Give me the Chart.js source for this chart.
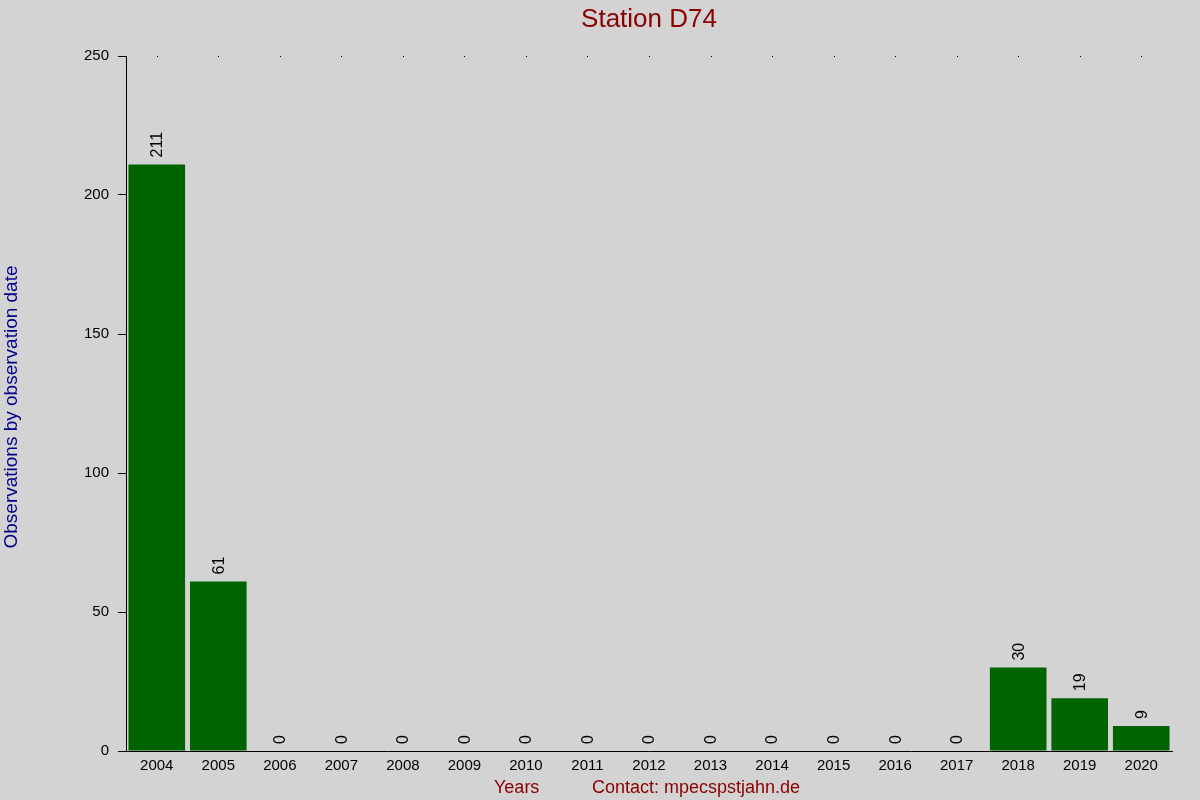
<!DOCTYPE html>
<html>
<head>
<meta charset="utf-8">
<title>Station D74</title>
<script src="https://cdn.jsdelivr.net/npm/chart.js@4/dist/chart.umd.min.js"></script>
<style>
  html, body { margin: 0; padding: 0; background: #d3d3d3; }
  canvas { display: block; }
</style>
</head>
<body>
<canvas id="stationChart" width="1200" height="800"></canvas>
<script>
const years = ['2004', '2005', '2006', '2007', '2008', '2009', '2010', '2011', '2012',
               '2013', '2014', '2015', '2016', '2017', '2018', '2019', '2020'];
const counts = [211, 61, 0, 0, 0, 0, 0, 0, 0, 0, 0, 0, 0, 0, 30, 19, 9];
const yTicks = [0, 50, 100, 150, 200, 250];

const FONT = "'Liberation Sans', Arial, sans-serif";

// fondo gris, textos de titulo y pie, puntos arriba y etiquetas de barras
const decorations = {
    id: 'decorations',
    beforeDraw(chart) {
        const ctx = chart.ctx;
        ctx.save();
        ctx.fillStyle = '#d3d3d3';
        ctx.fillRect(0, 0, chart.width, chart.height);
        ctx.restore();
    },
    afterDatasetsDraw(chart) {
        const ctx = chart.ctx;
        const area = chart.chartArea;
        const xScale = chart.scales.x;
        ctx.save();

        // small dots along the top of the plot
        ctx.fillStyle = '#000';
        years.forEach((y, i) => {
            const px = Math.round(xScale.getPixelForValue(i));
            ctx.fillRect(px, area.top, 1, 1);
        });

        // value labels, rotated
        ctx.font = '16px ' + FONT;
        ctx.fillStyle = '#000';
        ctx.textAlign = 'left';
        ctx.textBaseline = 'middle';
        chart.getDatasetMeta(0).data.forEach((bar, i) => {
            ctx.save();
            ctx.translate(bar.x + 1, bar.y - 7);
            ctx.rotate(-Math.PI / 2);
            ctx.fillText(String(counts[i]), 0, 0);
            ctx.restore();
        });

        // title
        ctx.font = '26px ' + FONT;
        ctx.fillStyle = '#8b0000';
        ctx.textAlign = 'center';
        ctx.textBaseline = 'alphabetic';
        ctx.fillText('Station D74', (area.left + area.right) / 2, 27);

        // y axis title
        ctx.save();
        ctx.font = '19px ' + FONT;
        ctx.fillStyle = '#00008b';
        ctx.translate(17, 407);
        ctx.rotate(-Math.PI / 2);
        ctx.textAlign = 'center';
        ctx.fillText('Observations by observation date', 0, 0);
        ctx.restore();

        // footer
        ctx.font = '18px ' + FONT;
        ctx.fillStyle = '#8b0000';
        ctx.textAlign = 'left';
        ctx.fillText('Years', 494, 793);
        ctx.fillText('Contact: mpecspstjahn.de', 592, 793);

        ctx.restore();
    }
};

const ctx = document.getElementById('stationChart').getContext('2d');
const stationChart = new Chart(ctx, {
    type: 'bar',
    data: {
        labels: years,
        datasets: [{
            label: 'Observations',
            data: counts,
            backgroundColor: '#006400',
            borderWidth: 0,
            categoryPercentage: 1.0,
            barPercentage: 0.92
        }]
    },
    options: {
        responsive: false,
        animation: false,
        devicePixelRatio: 1,
        layout: {
            padding: { top: 56, right: 28, bottom: 0, left: 0 }
        },
        plugins: {
            legend: { display: false },
            title: { display: false },
            tooltip: { enabled: false }
        },
        scales: {
            x: {
                grid: { display: true, drawOnChartArea: false, drawTicks: false },
                border: { color: '#000', width: 1 },
                ticks: {
                    color: '#000',
                    font: { family: FONT, size: 15 },
                    padding: 6,
                    maxRotation: 0,
                    autoSkip: false
                },
                afterFit(scale) { scale.height = 49; }
            },
            y: {
                min: 0,
                max: 250,
                grid: { display: true, drawOnChartArea: false, drawTicks: true, tickLength: 8, color: '#000' },
                border: { color: '#000', width: 1 },
                ticks: {
                    color: '#000',
                    font: { family: FONT, size: 15 },
                    padding: 9
                },
                afterBuildTicks(scale) {
                    scale.ticks = yTicks.map(v => ({ value: v }));
                },
                afterFit(scale) { scale.width = 126; }
            }
        }
    },
    plugins: [decorations]
});
</script>
</body>
</html>
